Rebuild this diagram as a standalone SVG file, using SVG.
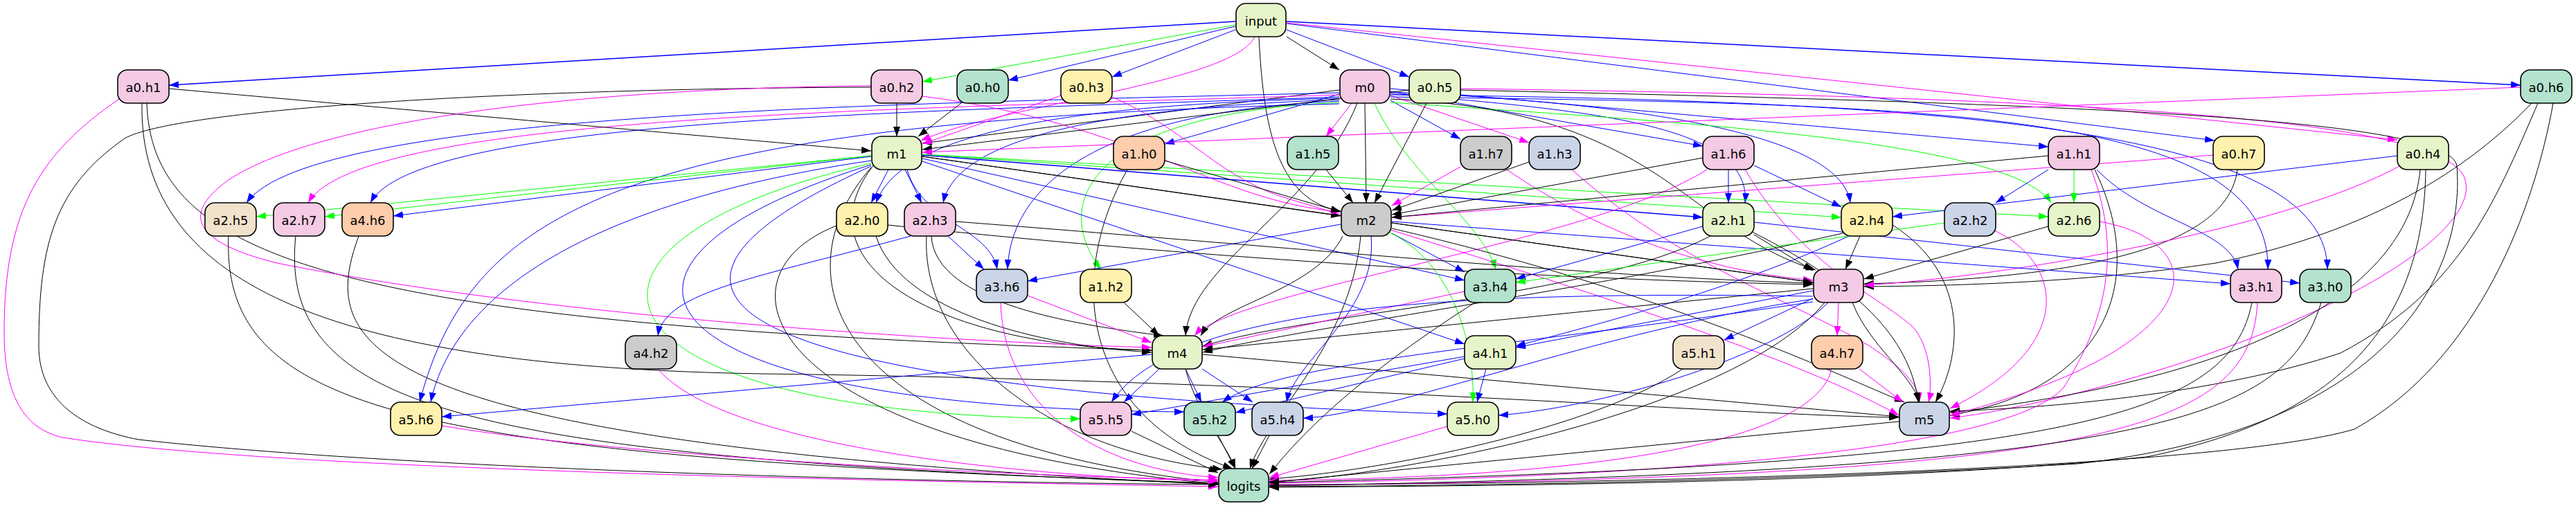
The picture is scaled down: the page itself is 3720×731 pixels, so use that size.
<svg xmlns="http://www.w3.org/2000/svg" width="3720" height="731" viewBox="0 0 3720 731">
<style>
.e{fill:none;stroke-width:1}
.k{stroke:#000;marker-end:url(#mk)}
.b{stroke:#00f;marker-end:url(#mb)}
.m{stroke:#f0f;marker-end:url(#mm)}
.g{stroke:#0f0;marker-end:url(#mg)}
.w{stroke-width:1.5}
.n rect{stroke:#000;stroke-width:1.6}
.n text{font-family:"DejaVu Sans","Liberation Sans",sans-serif;font-size:18px;text-anchor:middle;dominant-baseline:central;fill:#000}
.c1{fill:#b3e2cd}.c2{fill:#fdcdac}.c3{fill:#cbd5e8}.c4{fill:#f4cae4}.c5{fill:#e6f5c9}.c6{fill:#fff2ae}.c7{fill:#f1e2cc}.c8{fill:#cccccc}
</style>
<defs>
<marker id="mk" viewBox="0 0 14 10" refX="14" refY="5" markerWidth="14" markerHeight="10" markerUnits="userSpaceOnUse" orient="auto"><path d="M0,0L14,5L0,10z" fill="#000"/></marker>
<marker id="mb" viewBox="0 0 14 10" refX="14" refY="5" markerWidth="14" markerHeight="10" markerUnits="userSpaceOnUse" orient="auto"><path d="M0,0L14,5L0,10z" fill="#00f"/></marker>
<marker id="mm" viewBox="0 0 14 10" refX="14" refY="5" markerWidth="14" markerHeight="10" markerUnits="userSpaceOnUse" orient="auto"><path d="M0,0L14,5L0,10z" fill="#f0f"/></marker>
<marker id="mg" viewBox="0 0 14 10" refX="14" refY="5" markerWidth="14" markerHeight="10" markerUnits="userSpaceOnUse" orient="auto"><path d="M0,0L14,5L0,10z" fill="#0f0"/></marker>
</defs>
<rect x="0" y="0" width="3720" height="731" fill="#fff"/>
<g id="edges">
<path class="e b w" d="M1784,31 L244,123"/>
<path class="e g" d="M1784,36 L1332,118"/>
<path class="e b" d="M1784,38 L1456,116"/>
<path class="e b" d="M1784,43 L1606,111"/>
<path class="e b" d="M1858,43 L2035,111"/>
<path class="e b w" d="M1858,31 L3640,123"/>
<path class="e k" d="M1858,53 L1934,101"/>
<path class="e b" d="M1858,34 L3198,203"/>
<path class="e m" d="M1858,33 L3462,202"/>
<path class="e m" d="M1812,53 C1780,120 1450,150 1330,203"/>
<path class="e k" d="M1818,53 C1825,200 1850,290 1936,305"/>
<path class="e k" d="M1934,130 L1332,207"/>
<path class="e b" d="M1934,136 L1682,208"/>
<path class="e m" d="M1952,149 L1915,197"/>
<path class="e b" d="M2008,145 L2109,201"/>
<path class="e m" d="M2008,138 L2208,206"/>
<path class="e b" d="M2008,132 L2459,211"/>
<path class="e b" d="M2008,128 L2958,212"/>
<path class="e k" d="M1971,149 L1973,293"/>
<path class="e b" d="M1934,134 C1300,150 450,160 356,293"/>
<path class="e m" d="M1934,137 C1300,158 520,165 445,293"/>
<path class="e b" d="M1934,140 C1300,162 600,172 535,293"/>
<path class="e b" d="M1934,142 C1500,152 1300,200 1265,293"/>
<path class="e b" d="M1934,144 C1550,157 1380,210 1362,293"/>
<path class="e g" d="M1985,149 C2030,250 2140,320 2160,389"/>
<path class="e b" d="M1934,146 C1600,160 1460,260 1455,389"/>
<path class="e b" d="M2008,140 C2800,150 3280,160 3275,389"/>
<path class="e b" d="M2008,137 C2900,145 3360,200 3361,389"/>
<path class="e b" d="M2008,135 C2300,160 2530,180 2520,293"/>
<path class="e b" d="M2008,133 C2400,150 2660,200 2672,293"/>
<path class="e g" d="M2008,148 C2400,175 2900,200 2962,293"/>
<path class="e g" d="M1934,148 C1560,165 1520,300 1590,389"/>
<path class="e k" d="M2008,143 C2400,160 2430,330 2622,390"/>
<path class="e b" d="M1934,150 C900,175 680,300 606,581"/>
<path class="e k" d="M1960,149 C1900,300 1720,380 1712,485"/>
<path class="e g" d="M1258,225 L370,313"/>
<path class="e g" d="M1258,225 L469,313"/>
<path class="e b" d="M1258,226 L568,312"/>
<path class="e b" d="M1283,245 L1258,293"/>
<path class="e b" d="M1307,245 L1331,293"/>
<path class="e k" d="M1332,226 L1936,312"/>
<path class="e b w" d="M1332,224 L2459,314"/>
<path class="e g" d="M1332,223 L2659,314"/>
<path class="e g" d="M1332,223 L2958,313"/>
<path class="e k" d="M1332,226 L2618,408"/>
<path class="e b" d="M1310,245 C1330,320 1430,330 1440,389"/>
<path class="e b" d="M1332,229 L2115,405"/>
<path class="e k" d="M1262,238 C1150,380 1350,500 1663,506"/>
<path class="e k" d="M1258,242 C1120,400 1200,640 1759,697"/>
<path class="e b" d="M1332,233 L2115,497"/>
<path class="e b" d="M1258,232 C800,300 650,450 622,581"/>
<path class="e g" d="M1258,236 C760,350 820,600 1560,605"/>
<path class="e b" d="M1258,238 C800,380 900,590 1710,595"/>
<path class="e b" d="M1258,240 C860,420 1000,560 2090,598"/>
<path class="e k" d="M244,128 L1258,218"/>
<path class="e k" d="M212,149 C220,380 500,470 1663,506"/>
<path class="e k" d="M205,149 C200,420 500,530 1100,540 C1900,550 2500,600 2742,603"/>
<path class="e m" d="M172,143 C60,220 6,300 6,480 C6,580 40,620 90,632 C400,680 1300,695 1759,703"/>
<path class="e k" d="M1295,149 L1295,197"/>
<path class="e k" d="M1258,126 C700,128 250,160 180,200 C80,270 56,350 56,500 C56,580 120,620 200,635 C600,680 1400,698 1759,700"/>
<path class="e m" d="M1258,124 C800,128 450,180 330,260 C260,310 280,350 400,380 C800,460 1400,495 1663,502"/>
<path class="e m" d="M1332,139 C1650,180 1750,290 1936,306"/>
<path class="e k" d="M1388,149 L1326,197"/>
<path class="e m" d="M1532,138 L1332,208"/>
<path class="e m" d="M1606,140 C1720,190 1760,260 1870,290 C2300,420 2600,520 2742,600"/>
<path class="e k" d="M2060,149 L1985,293"/>
<path class="e k" d="M2035,130 L1332,216"/>
<path class="e m" d="M2109,128 C3000,140 3540,170 3560,260 C3580,330 3400,450 3100,540 C2950,585 2850,600 2816,604"/>
<path class="e k" d="M2109,130 C3000,150 3540,170 3548,240 C3560,400 3450,620 3000,670 C2500,700 2000,702 1833,703"/>
<path class="e m" d="M3640,126 L1332,220"/>
<path class="e k" d="M3656,149 C3550,260 3400,340 3200,380 C3000,410 2800,413 2692,414"/>
<path class="e k" d="M3665,149 C3600,300 3550,420 3380,510 C3200,570 2950,590 2816,594"/>
<path class="e k" d="M3687,149 C3660,300 3580,520 3400,620 C3200,680 2300,700 1833,700"/>
<path class="e m" d="M3196,224 L2010,314"/>
<path class="e k" d="M3231,245 C3220,330 3100,400 2692,410"/>
<path class="e b" d="M3462,225 L2733,313"/>
<path class="e m" d="M3465,240 C3300,330 2900,400 2692,412"/>
<path class="e k" d="M3495,245 C3480,400 3300,540 2816,596"/>
<path class="e k" d="M3503,245 C3500,450 3400,600 3100,660 C2700,700 2100,702 1833,704"/>
<path class="e k" d="M1682,232 L1936,306"/>
<path class="e k" d="M1628,245 C1540,400 1560,600 1780,677"/>
<path class="e k" d="M1915,245 L1954,293"/>
<path class="e m" d="M2109,241 L2010,297"/>
<path class="e m" d="M2176,245 C2300,330 2450,390 2618,405"/>
<path class="e k" d="M2208,234 L2010,304"/>
<path class="e m" d="M2270,245 C2420,380 2600,440 2700,500 C2760,540 2770,560 2772,581"/>
<path class="e k" d="M2459,228 L2010,310"/>
<path class="e b" d="M2496,245 L2496,293"/>
<path class="e b" d="M2533,239 L2659,299"/>
<path class="e m" d="M2465,245 C2300,350 1780,420 1725,485"/>
<path class="e m" d="M2520,245 C2600,380 2700,420 2760,470 C2790,500 2790,560 2785,581"/>
<path class="e b" d="M2958,245 L2882,293"/>
<path class="e g" d="M2995,245 L2995,293"/>
<path class="e b" d="M3028,245 C3100,320 3220,330 3232,389"/>
<path class="e k" d="M2958,225 L2010,314"/>
<path class="e k" d="M3025,245 C3100,400 3050,560 2816,600"/>
<path class="e m" d="M3020,245 C3060,350 3050,450 2980,560 C2900,650 2400,690 1833,698"/>
<path class="e b" d="M1936,324 L1484,406"/>
<path class="e b" d="M2010,337 L2115,393"/>
<path class="e k" d="M2010,322 L2618,408"/>
<path class="e b" d="M2010,320 L3221,410"/>
<path class="e k" d="M1939,341 C1900,420 1760,440 1734,485"/>
<path class="e b" d="M1980,341 C1990,450 1870,520 1858,581"/>
<path class="e g" d="M2005,335 C2100,380 2130,500 2127,581"/>
<path class="e k" d="M1965,341 C1950,500 1830,600 1805,677"/>
<path class="e k" d="M2010,330 C2400,420 2650,540 2750,581"/>
<path class="e k" d="M330,341 C320,600 600,660 1759,698"/>
<path class="e k" d="M427,341 C400,600 700,660 1759,699"/>
<path class="e k" d="M518,341 C460,500 500,640 1759,700"/>
<path class="e k" d="M1265,341 C1300,450 1500,500 1663,509"/>
<path class="e k" d="M1282,325 C1800,380 2300,405 2618,411"/>
<path class="e k" d="M1208,326 C1020,400 1100,640 1759,699"/>
<path class="e b" d="M1369,341 L1421,389"/>
<path class="e b" d="M1315,341 C1100,400 960,420 950,485"/>
<path class="e k" d="M1345,341 C1350,440 1560,470 1680,485"/>
<path class="e k" d="M1380,320 C1900,360 2300,400 2618,409"/>
<path class="e k" d="M1338,341 C1330,500 1500,650 1765,678"/>
<path class="e k" d="M2533,339 L2618,391"/>
<path class="e b" d="M2459,327 L2189,403"/>
<path class="e b" d="M2533,321 L3321,409"/>
<path class="e k" d="M2470,341 C2300,430 1900,450 1737,500"/>
<path class="e k" d="M2530,335 C2700,420 2760,500 2770,581"/>
<path class="e k" d="M2686,341 L2665,389"/>
<path class="e b" d="M2670,341 C2500,420 2300,470 2189,500"/>
<path class="e k" d="M2665,336 C2300,420 1900,470 1737,509"/>
<path class="e k" d="M2733,325 C2850,400 2830,520 2795,581"/>
<path class="e g" d="M2808,322 L2189,408"/>
<path class="e m" d="M2880,333 C2980,380 3000,500 2816,590"/>
<path class="e k" d="M2958,327 L2692,403"/>
<path class="e m" d="M3032,320 C3200,350 3200,500 2816,600"/>
<path class="e m" d="M1484,427 L1663,495"/>
<path class="e m" d="M1445,437 C1450,600 1600,680 1759,690"/>
<path class="e k" d="M1623,437 L1674,485"/>
<path class="e m" d="M2115,421 L1737,501"/>
<path class="e k" d="M2130,437 C2000,520 1900,600 1833,685"/>
<path class="e k" d="M2618,417 L1737,505"/>
<path class="e b" d="M2618,420 L2189,502"/>
<path class="e b" d="M2618,431 L2490,491"/>
<path class="e m" d="M2655,437 L2653,485"/>
<path class="e k" d="M2675,437 C2700,500 2760,540 2772,581"/>
<path class="e b" d="M2618,428 C2100,420 1700,440 1605,581"/>
<path class="e b" d="M2618,432 C2300,480 2000,600 1882,604"/>
<path class="e b" d="M2640,437 C2560,520 2300,590 2164,600"/>
<path class="e b" d="M2618,436 C2200,500 1850,520 1765,581"/>
<path class="e k" d="M2635,437 C2500,600 2000,690 1833,696"/>
<path class="e k" d="M3252,437 C3220,600 3000,670 1833,697"/>
<path class="e m" d="M3260,437 C3250,620 3050,690 1833,701"/>
<path class="e k" d="M3352,437 C3300,600 3150,680 1833,702"/>
<path class="e m" d="M950,533 C1050,650 1500,690 1759,695"/>
<path class="e b" d="M1663,512 L638,602"/>
<path class="e b" d="M1674,533 L1623,581"/>
<path class="e b" d="M1712,533 L1735,581"/>
<path class="e b" d="M1736,533 L1809,581"/>
<path class="e k" d="M1737,512 L2742,602"/>
<path class="e k" d="M1712,533 C1730,600 1770,640 1784,677"/>
<path class="e b" d="M2146,533 L2133,581"/>
<path class="e b" d="M2115,515 L1634,599"/>
<path class="e b" d="M2115,518 L1784,596"/>
<path class="e k" d="M2430,533 C2300,620 2000,680 1833,692"/>
<path class="e m" d="M2685,533 L2748,581"/>
<path class="e m" d="M2645,533 C2620,640 2300,690 1833,694"/>
<path class="e m" d="M638,615 C900,660 1500,690 1759,693"/>
<path class="e k" d="M1634,623 L1759,683"/>
<path class="e k" d="M1759,629 L1784,677"/>
<path class="e k" d="M1833,629 L1808,677"/>
<path class="e m" d="M2090,616 L1833,690"/>
<path class="e k" d="M2742,609 L1833,697"/>
</g>
<g id="input" class="n"><rect class="c5" x="1785" y="5" width="72" height="48" rx="14"/><text x="1821" y="30">input</text></g>
<g id="a0_h1" class="n"><rect class="c4" x="170" y="101" width="74" height="48" rx="14"/><text x="207" y="126">a0.h1</text></g>
<g id="a0_h2" class="n"><rect class="c4" x="1258" y="101" width="74" height="48" rx="14"/><text x="1295" y="126">a0.h2</text></g>
<g id="a0_h0" class="n"><rect class="c1" x="1382" y="101" width="74" height="48" rx="14"/><text x="1419" y="126">a0.h0</text></g>
<g id="a0_h3" class="n"><rect class="c6" x="1532" y="101" width="74" height="48" rx="14"/><text x="1569" y="126">a0.h3</text></g>
<g id="m0" class="n"><rect class="c4" x="1935" y="101" width="72" height="48" rx="14"/><text x="1971" y="126">m0</text></g>
<g id="a0_h5" class="n"><rect class="c5" x="2035" y="101" width="74" height="48" rx="14"/><text x="2072" y="126">a0.h5</text></g>
<g id="a0_h6" class="n"><rect class="c1" x="3640" y="101" width="74" height="48" rx="14"/><text x="3677" y="126">a0.h6</text></g>
<g id="m1" class="n"><rect class="c5" x="1259" y="197" width="72" height="48" rx="14"/><text x="1295" y="222">m1</text></g>
<g id="a1_h0" class="n"><rect class="c2" x="1608" y="197" width="74" height="48" rx="14"/><text x="1645" y="222">a1.h0</text></g>
<g id="a1_h5" class="n"><rect class="c1" x="1859" y="197" width="74" height="48" rx="14"/><text x="1896" y="222">a1.h5</text></g>
<g id="a1_h7" class="n"><rect class="c8" x="2109" y="197" width="74" height="48" rx="14"/><text x="2146" y="222">a1.h7</text></g>
<g id="a1_h3" class="n"><rect class="c3" x="2208" y="197" width="74" height="48" rx="14"/><text x="2245" y="222">a1.h3</text></g>
<g id="a1_h6" class="n"><rect class="c4" x="2459" y="197" width="74" height="48" rx="14"/><text x="2496" y="222">a1.h6</text></g>
<g id="a1_h1" class="n"><rect class="c4" x="2958" y="197" width="74" height="48" rx="14"/><text x="2995" y="222">a1.h1</text></g>
<g id="a0_h7" class="n"><rect class="c6" x="3196" y="197" width="74" height="48" rx="14"/><text x="3233" y="222">a0.h7</text></g>
<g id="a0_h4" class="n"><rect class="c5" x="3462" y="197" width="74" height="48" rx="14"/><text x="3499" y="222">a0.h4</text></g>
<g id="a2_h5" class="n"><rect class="c7" x="296" y="293" width="74" height="48" rx="14"/><text x="333" y="318">a2.h5</text></g>
<g id="a2_h7" class="n"><rect class="c4" x="395" y="293" width="74" height="48" rx="14"/><text x="432" y="318">a2.h7</text></g>
<g id="a4_h6" class="n"><rect class="c2" x="494" y="293" width="74" height="48" rx="14"/><text x="531" y="318">a4.h6</text></g>
<g id="a2_h0" class="n"><rect class="c6" x="1208" y="293" width="74" height="48" rx="14"/><text x="1245" y="318">a2.h0</text></g>
<g id="a2_h3" class="n"><rect class="c4" x="1306" y="293" width="74" height="48" rx="14"/><text x="1343" y="318">a2.h3</text></g>
<g id="m2" class="n"><rect class="c8" x="1937" y="293" width="72" height="48" rx="14"/><text x="1973" y="318">m2</text></g>
<g id="a2_h1" class="n"><rect class="c5" x="2459" y="293" width="74" height="48" rx="14"/><text x="2496" y="318">a2.h1</text></g>
<g id="a2_h4" class="n"><rect class="c6" x="2659" y="293" width="74" height="48" rx="14"/><text x="2696" y="318">a2.h4</text></g>
<g id="a2_h2" class="n"><rect class="c3" x="2808" y="293" width="74" height="48" rx="14"/><text x="2845" y="318">a2.h2</text></g>
<g id="a2_h6" class="n"><rect class="c5" x="2958" y="293" width="74" height="48" rx="14"/><text x="2995" y="318">a2.h6</text></g>
<g id="a3_h6" class="n"><rect class="c3" x="1410" y="389" width="74" height="48" rx="14"/><text x="1447" y="414">a3.h6</text></g>
<g id="a1_h2" class="n"><rect class="c6" x="1560" y="389" width="74" height="48" rx="14"/><text x="1597" y="414">a1.h2</text></g>
<g id="a3_h4" class="n"><rect class="c1" x="2115" y="389" width="74" height="48" rx="14"/><text x="2152" y="414">a3.h4</text></g>
<g id="m3" class="n"><rect class="c4" x="2619" y="389" width="72" height="48" rx="14"/><text x="2655" y="414">m3</text></g>
<g id="a3_h1" class="n"><rect class="c4" x="3221" y="389" width="74" height="48" rx="14"/><text x="3258" y="414">a3.h1</text></g>
<g id="a3_h0" class="n"><rect class="c1" x="3321" y="389" width="74" height="48" rx="14"/><text x="3358" y="414">a3.h0</text></g>
<g id="a4_h2" class="n"><rect class="c8" x="903" y="485" width="74" height="48" rx="14"/><text x="940" y="510">a4.h2</text></g>
<g id="m4" class="n"><rect class="c5" x="1664" y="485" width="72" height="48" rx="14"/><text x="1700" y="510">m4</text></g>
<g id="a4_h1" class="n"><rect class="c5" x="2115" y="485" width="74" height="48" rx="14"/><text x="2152" y="510">a4.h1</text></g>
<g id="a5_h1" class="n"><rect class="c7" x="2416" y="485" width="74" height="48" rx="14"/><text x="2453" y="510">a5.h1</text></g>
<g id="a4_h7" class="n"><rect class="c2" x="2616" y="485" width="74" height="48" rx="14"/><text x="2653" y="510">a4.h7</text></g>
<g id="a5_h6" class="n"><rect class="c6" x="564" y="581" width="74" height="48" rx="14"/><text x="601" y="606">a5.h6</text></g>
<g id="a5_h5" class="n"><rect class="c4" x="1560" y="581" width="74" height="48" rx="14"/><text x="1597" y="606">a5.h5</text></g>
<g id="a5_h2" class="n"><rect class="c1" x="1710" y="581" width="74" height="48" rx="14"/><text x="1747" y="606">a5.h2</text></g>
<g id="a5_h4" class="n"><rect class="c3" x="1808" y="581" width="74" height="48" rx="14"/><text x="1845" y="606">a5.h4</text></g>
<g id="a5_h0" class="n"><rect class="c5" x="2090" y="581" width="74" height="48" rx="14"/><text x="2127" y="606">a5.h0</text></g>
<g id="m5" class="n"><rect class="c3" x="2743" y="581" width="72" height="48" rx="14"/><text x="2779" y="606">m5</text></g>
<g id="logits" class="n"><rect class="c1" x="1760" y="677" width="72" height="48" rx="14"/><text x="1796" y="702">logits</text></g>
</svg>
